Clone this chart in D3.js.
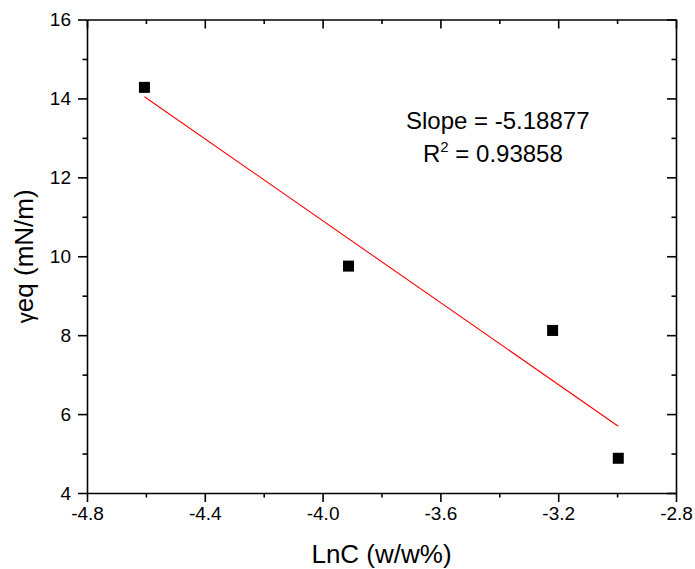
<!DOCTYPE html>
<html>
<head>
<meta charset="utf-8">
<script src="https://cdn.jsdelivr.net/npm/d3@7"></script>
<style>
  html, body { margin: 0; padding: 0; background: #fff; }
  svg { display: block; font-family: "Liberation Sans", Arial, sans-serif; }
</style>
</head>
<body>
<svg id="chart" width="695" height="569"></svg>
<script>
// ---- data ----
const lnC = [-4.605, -3.912, -3.219, -2.996];
const gammaEq = [14.28, 9.75, 8.12, 4.88];
const fitSlope = -5.18877;
const fitR2 = 0.93858;
const xTicks = [-4.8, -4.4, -4.0, -3.6, -3.2, -2.8];
const xMinorTicks = [-4.6, -4.2, -3.8, -3.4, -3.0];
const yTicks = [4, 6, 8, 10, 12, 14, 16];
const yMinorTicks = [5, 7, 9, 11, 13, 15];
const xTitle = "LnC (w/w%)";
const yTitleSymbol = "γ";
const yTitleRest = "eq (mN/m)";

// ---- layout ----
const mLeft = 87, mRight = 676, mTop = 19.5, mBottom = 493;
const svg = d3.select("#chart");
const x = d3.scaleLinear().domain([-4.8, -2.8]).range([mLeft, mRight]);
const y = d3.scaleLinear().domain([4, 16]).range([mBottom, mTop]);

const majorLen = 9, minorLen = 4.5;
const fmtX = (d) => d.toFixed(1);
const fmtY = (d) => String(d);

function styleAxis(g) {
  g.selectAll("path.domain").attr("stroke", "#000").attr("stroke-width", 1.6);
  g.selectAll(".tick line").attr("stroke", "#000").attr("stroke-width", 1.6);
  g.selectAll(".tick text").attr("fill", "#000");
}

// bottom
const gb = svg.append("g").attr("transform", `translate(0,${mBottom})`)
  .call(d3.axisBottom(x).tickValues(xTicks).tickFormat(fmtX).tickSize(majorLen).tickSizeOuter(0).tickPadding(5));
gb.selectAll(".tick text").attr("font-size", 19).attr("font-family", "Liberation Sans, Arial, sans-serif");
styleAxis(gb);
const gbm = svg.append("g").attr("transform", `translate(0,${mBottom})`)
  .call(d3.axisBottom(x).tickValues(xMinorTicks).tickFormat("").tickSize(minorLen).tickSizeOuter(0));
gbm.select("path.domain").remove(); styleAxis(gbm);

// top
const gt = svg.append("g").attr("transform", `translate(0,${mTop})`)
  .call(d3.axisBottom(x).tickValues(xTicks).tickFormat("").tickSize(majorLen).tickSizeOuter(0));
styleAxis(gt);
const gtm = svg.append("g").attr("transform", `translate(0,${mTop})`)
  .call(d3.axisBottom(x).tickValues(xMinorTicks).tickFormat("").tickSize(minorLen).tickSizeOuter(0));
gtm.select("path.domain").remove(); styleAxis(gtm);

// left
const gl = svg.append("g").attr("transform", `translate(${mLeft},0)`)
  .call(d3.axisLeft(y).tickValues(yTicks).tickFormat(fmtY).tickSize(majorLen).tickSizeOuter(0).tickPadding(7));
gl.selectAll(".tick text").attr("font-size", 19).attr("font-family", "Liberation Sans, Arial, sans-serif");
styleAxis(gl);
const glm = svg.append("g").attr("transform", `translate(${mLeft},0)`)
  .call(d3.axisLeft(y).tickValues(yMinorTicks).tickFormat("").tickSize(minorLen).tickSizeOuter(0));
glm.select("path.domain").remove(); styleAxis(glm);

// right
const gr = svg.append("g").attr("transform", `translate(${mRight},0)`)
  .call(d3.axisLeft(y).tickValues(yTicks).tickFormat("").tickSize(majorLen).tickSizeOuter(0));
styleAxis(gr);
const grm = svg.append("g").attr("transform", `translate(${mRight},0)`)
  .call(d3.axisLeft(y).tickValues(yMinorTicks).tickFormat("").tickSize(minorLen).tickSizeOuter(0));
grm.select("path.domain").remove(); styleAxis(grm);

// fit line
const mx = d3.mean(lnC), my = d3.mean(gammaEq);
const intercept = my - fitSlope * mx;
const xmin = d3.min(lnC), xmax = d3.max(lnC);
svg.append("line")
  .attr("x1", x(xmin)).attr("y1", y(fitSlope * xmin + intercept))
  .attr("x2", x(xmax)).attr("y2", y(fitSlope * xmax + intercept))
  .attr("stroke", "#ff0000").attr("stroke-width", 1.1);

// points
const sz = 11;
svg.append("g").selectAll("rect").data(lnC).join("rect")
  .attr("x", (d) => x(d) - sz / 2)
  .attr("y", (d, i) => y(gammaEq[i]) - sz / 2)
  .attr("width", sz).attr("height", sz)
  .attr("fill", "#000");

// annotation
svg.append("text").attr("x", 406).attr("y", 129).attr("font-size", 24).attr("fill", "#000")
  .text("Slope = " + fitSlope.toFixed(5));
const r2 = svg.append("text").attr("x", 423).attr("y", 162).attr("font-size", 24).attr("fill", "#000");
r2.append("tspan").text("R");
r2.append("tspan").attr("font-size", 15).attr("dy", -10).text("2");
r2.append("tspan").attr("dy", 10).text(" = " + fitR2.toFixed(5));

// axis titles
svg.append("text").attr("x", (mLeft + mRight) / 2).attr("y", 563).attr("text-anchor", "middle")
  .attr("font-size", 26).attr("fill", "#000").text(xTitle);
const yt = svg.append("text").attr("transform", `translate(33,${(mTop + mBottom) / 2}) rotate(-90)`)
  .attr("text-anchor", "middle").attr("font-size", 26).attr("fill", "#000");
yt.append("tspan").attr("font-size", 22).text(yTitleSymbol);
yt.append("tspan").text(yTitleRest);
</script>
</body>
</html>
